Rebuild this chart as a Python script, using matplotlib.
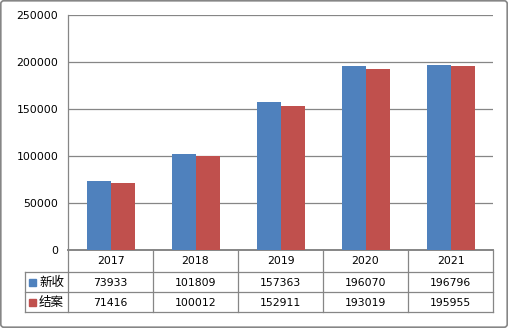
import matplotlib
matplotlib.use("Agg")
import matplotlib.pyplot as plt
from matplotlib.transforms import blended_transform_factory
from matplotlib.patches import FancyBboxPatch
import numpy as np

plt.rcParams['font.family'] = ['DejaVu Sans', 'Noto Sans CJK SC']

years = ['2017', '2018', '2019', '2020', '2021']
series_names = ['新收', '结案']
received = [73933, 101809, 157363, 196070, 196796]
closed = [71416, 100012, 152911, 193019, 195955]
colors = ['#4F81BD', '#C0504D']
yticks = [0, 50000, 100000, 150000, 200000, 250000]

W, H = 508, 328
fig = plt.figure(figsize=(W / 100, H / 100), dpi=100)
fig.patch.set_facecolor('white')

GRAY = '#868686'
LW = 0.9
FS = 7.8

# plot area in pixels
px_l, px_r, px_t, px_b = 68, 493, 15, 250
ax = fig.add_axes([px_l / W, 1 - px_b / H, (px_r - px_l) / W, (px_b - px_t) / H])

x = np.arange(len(years))
bw = 24 / 85
ax.bar(x - bw / 2, received, width=bw, color=colors[0], zorder=3)
ax.bar(x + bw / 2, closed, width=bw, color=colors[1], zorder=3)

ax.set_xlim(-0.5, len(years) - 0.5)
ax.set_ylim(0, 250000)
ax.set_yticks(yticks)
ax.set_yticklabels([str(v) for v in yticks], fontsize=FS)
ax.tick_params(axis='y', length=0, pad=7)
ax.set_xticks([])
ax.yaxis.grid(True, color=GRAY, linewidth=LW, zorder=0)
for s in ['top', 'right']:
    ax.spines[s].set_visible(False)
ax.spines['left'].set_color(GRAY)
ax.spines['left'].set_linewidth(LW)
ax.spines['bottom'].set_color(GRAY)
ax.spines['bottom'].set_linewidth(1.4)

# data table beneath the axis
tr = blended_transform_factory(ax.transData, ax.transAxes)
ph = px_b - px_t
def fy(py):
    return (px_b - py) / ph

for i, yr in enumerate(years):
    ax.text(i, fy(261.5), yr, transform=tr, ha='center', va='center',
            fontsize=FS, clip_on=False)
    ax.text(i, fy(282.5), str(received[i]), transform=tr, ha='center',
            va='center', fontsize=FS, clip_on=False)
    ax.text(i, fy(302.5), str(closed[i]), transform=tr, ha='center',
            va='center', fontsize=FS, clip_on=False)

# table grid lines (figure pixel coordinates)
ov = fig.add_axes([0, 0, 1, 1], zorder=5)
ov.set_xlim(0, W)
ov.set_ylim(H, 0)
ov.axis('off')
ov.patch.set_visible(False)

for yy in [272, 292, 312]:
    ov.plot([24.5, px_r], [yy, yy], color=GRAY, lw=LW)
for j in range(len(years) + 1):
    xx = px_l + 85 * j
    ov.plot([xx, xx], [250, 312], color=GRAY, lw=LW)
ov.plot([24.5, 24.5], [272, 312], color=GRAY, lw=LW)

# legend keys inside the table
for k, (name, c) in enumerate(zip(series_names, colors)):
    yc = 282 + 20 * k
    ov.add_patch(plt.Rectangle((29, yc - 3.5), 7, 7, color=c))
    ov.text(39, yc + 0.5, name, ha='left', va='center', fontsize=9,
            family=['Noto Sans CJK SC', 'DejaVu Sans'])

# outer chart border
ov.add_patch(FancyBboxPatch((0.8, 0.8), W - 1.6, H - 1.6,
                            boxstyle='round,pad=0,rounding_size=3',
                            fill=False, edgecolor=GRAY, lw=1.2))

fig.savefig('out.png', dpi=100, facecolor='white')
